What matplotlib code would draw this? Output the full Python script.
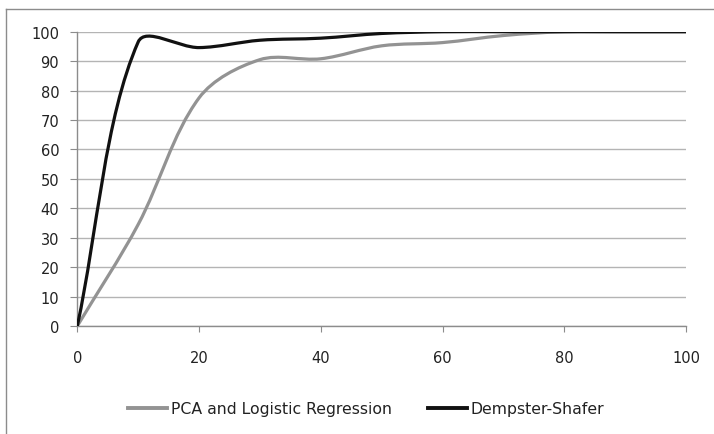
import numpy as np
import matplotlib
matplotlib.use("Agg")
import matplotlib.pyplot as plt
from matplotlib.path import Path
from matplotlib.patches import PathPatch
from matplotlib.lines import Line2D

# ==== Data ====
x_vals = [0, 10, 20, 30, 40, 50, 60, 70, 80, 90, 100]
pca_lr = [0, 34.5, 77.5, 90.5, 90.8, 95.2, 96.3, 98.7, 100, 100, 100]
dempster = [0, 96.5, 94.6, 97.1, 97.8, 99.4, 100, 100, 100, 100, 100]
series_names = ["PCA and Logistic Regression", "Dempster-Shafer"]
ticks = [0, 10, 20, 30, 40, 50, 60, 70, 80, 90, 100]
x_ticks = [0, 20, 40, 60, 80, 100]
# =======================================

plt.rcParams['font.family'] = ['DejaVu Sans']

W, H = 714, 435
fig = plt.figure(figsize=(W / 100, H / 100), dpi=100)

ax = fig.add_axes([77.3 / W, 108 / H, (686 - 77.3) / W, (327 - 32.7) / H])
ax.set_xlim(0, 100)
ax.set_ylim(0, 100)
ax.set_yticks(ticks)
ax.set_xticks(x_ticks)
ax.grid(axis='y', color='#b4b4b4', linewidth=1.0)
ax.set_axisbelow(True)
for side in ['top', 'right']:
    ax.spines[side].set_visible(False)
for side in ['left', 'bottom']:
    ax.spines[side].set_color('#8c8c8c')
    ax.spines[side].set_linewidth(1.0)
ax.tick_params(axis='y', length=5, color='#8c8c8c', pad=8, labelsize=10.5, labelcolor='#222222')
ax.tick_params(axis='x', length=4.5, color='#8c8c8c', pad=13, labelsize=10.5, labelcolor='#222222')


def smooth_path(xs, ys):
    # Excel-like smoothed line: cubic bezier, control points weighted by chord length on screen
    pts = np.column_stack([xs, ys]).astype(float)
    disp = ax.transData.transform(pts)
    d = np.hypot(*np.diff(disp, axis=0).T)
    n = len(pts)
    verts = [pts[0]]
    codes = [Path.MOVETO]
    for i in range(n - 1):
        p0, p1 = pts[i], pts[i + 1]
        if i == 0:
            c1 = p0 + (p1 - p0) / 3
        else:
            c1 = p0 + (pts[i + 1] - pts[i - 1]) * d[i] / (d[i - 1] + d[i]) / 3
        if i + 1 == n - 1:
            c2 = p1 - (p1 - p0) / 3
        else:
            c2 = p1 - (pts[i + 2] - pts[i]) * d[i] / (d[i] + d[i + 1]) / 3
        verts += [c1, c2, p1]
        codes += [Path.CURVE4] * 3
    return Path(verts, codes)


colors = ['#939393', '#111111']
for ys, col, z in zip([pca_lr, dempster], colors, [3, 4]):
    patch = PathPatch(smooth_path(x_vals, ys), fill=False, edgecolor=col,
                      linewidth=2.3, capstyle='round', joinstyle='round', zorder=z)
    ax.add_patch(patch)

handles = [Line2D([], [], color=c, linewidth=2.8) for c in colors]
fig.legend(handles, series_names, loc='center', bbox_to_anchor=(366 / W, 1 - 410 / H),
           ncol=2, frameon=False, fontsize=11.3, handlelength=2.5, handletextpad=0.2,
           columnspacing=2.3, labelcolor='#222222')

# outer chart border (cropped at right and bottom)
fig.add_artist(Line2D([5.5 / W, 5.5 / W], [0, 1 - 10 / H], color='#8c8c8c', linewidth=1.0))
fig.add_artist(Line2D([5.5 / W, 1], [1 - 10 / H, 1 - 10 / H], color='#8c8c8c', linewidth=1.0))

fig.savefig("out.png", dpi=100)
